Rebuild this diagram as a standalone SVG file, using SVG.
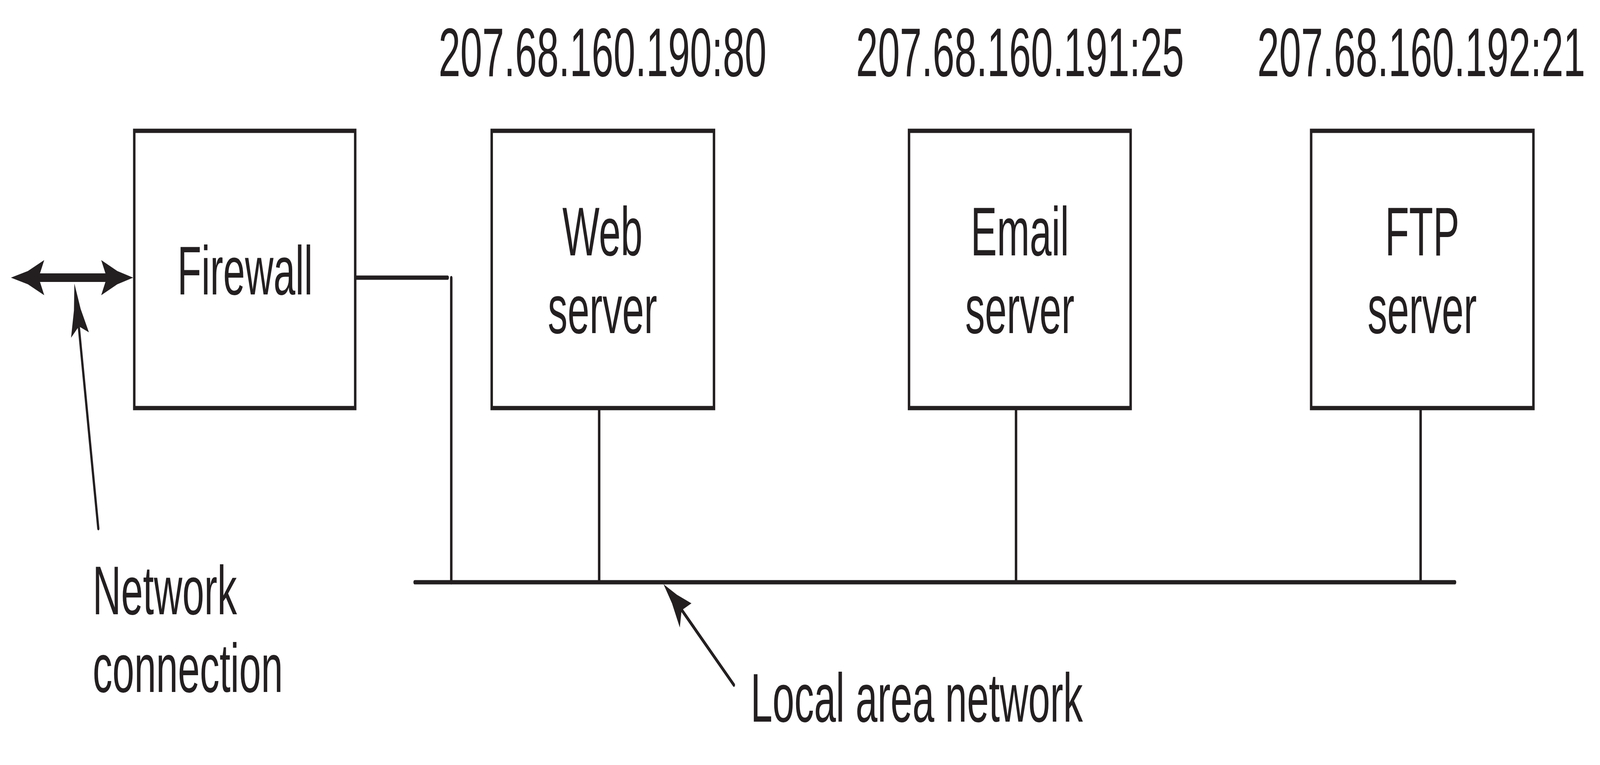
<svg xmlns="http://www.w3.org/2000/svg" width="7162" height="1959" viewBox="0 0 7162 1959" preserveAspectRatio="none">
  <style>
    svg { width: 100vw; height: 100vh; display: block; }
    .box { fill: #ffffff; stroke: #231f20; stroke-width: 11; }
    .lbl { font-family: "Liberation Sans", Arial, sans-serif; font-size: 176px; fill: #231f20; }
    .mid { text-anchor: middle; }
    .wire { stroke: #231f20; stroke-width: 11; fill: none; stroke-linecap: round; }
    .drop { stroke: #231f20; stroke-width: 11; fill: none; }
    .ptr { stroke: #231f20; stroke-width: 10; fill: none; stroke-linecap: round; }
    .head { fill: #231f20; stroke: none; }
  </style>
  <rect width="7162" height="1959" fill="#ffffff"/>

  <g id="connectors">
    <path class="head" d="M49,711 L125,694 L198,666 L179,700 L472,700 L453,666 L525,694 L596,711 L525,728 L453,756 L472,722 L179,722 L198,756 L125,728 Z"/>
    <line class="wire" x1="1590" y1="711" x2="2004" y2="711"/>
    <line class="wire" x1="2020" y1="712" x2="2020" y2="1491"/>
    <line class="wire" x1="1856" y1="1491" x2="6513" y2="1491"/>
    <line class="drop" x1="2682" y1="1045" x2="2682" y2="1491"/>
    <line class="drop" x1="4548" y1="1045" x2="4548" y2="1491"/>
    <line class="drop" x1="6359" y1="1045" x2="6359" y2="1491"/>
    <line class="ptr" x1="353" y1="838" x2="440" y2="1353"/>
    <path class="head" d="M333,726 L361,791 L398,851 L357,837 L348,840 L318,865 L331,795 Z"/>
    <line class="ptr" x1="3054" y1="1564" x2="3285" y2="1754"/>
    <path class="head" d="M2970,1496 L3030,1523 L3095,1545 L3058,1560 L3050,1568 L3043,1607 L3008,1545 Z"/>
  </g>

  <g id="firewall">
    <rect class="box" x="601" y="335" width="989" height="710"/>
    <text class="lbl mid" x="1097" y="754">Firewall</text>
  </g>

  <g id="web-server">
    <rect class="box" x="2201" y="335" width="995" height="710"/>
    <text class="lbl mid" x="2697" y="195">207.68.160.190:80</text>
    <text class="lbl mid" x="2697" y="654">Web</text>
    <text class="lbl mid" x="2697" y="853">server</text>
  </g>

  <g id="email-server">
    <rect class="box" x="4069" y="335" width="992" height="710"/>
    <text class="lbl mid" x="4566" y="195">207.68.160.191:25</text>
    <text class="lbl mid" x="4565" y="654">Email</text>
    <text class="lbl mid" x="4565" y="853">server</text>
  </g>

  <g id="ftp-server">
    <rect class="box" x="5869" y="335" width="995" height="710"/>
    <text class="lbl mid" x="6362" y="195">207.68.160.192:21</text>
    <text class="lbl mid" x="6366" y="654">FTP</text>
    <text class="lbl mid" x="6366" y="853">server</text>
  </g>

  <g id="network-connection-label">
    <text class="lbl" x="415" y="1573">Network</text>
    <text class="lbl" x="415" y="1772">connection</text>
  </g>

  <g id="lan-label">
    <text class="lbl" x="3360" y="1848">Local area network</text>
  </g>
</svg>
